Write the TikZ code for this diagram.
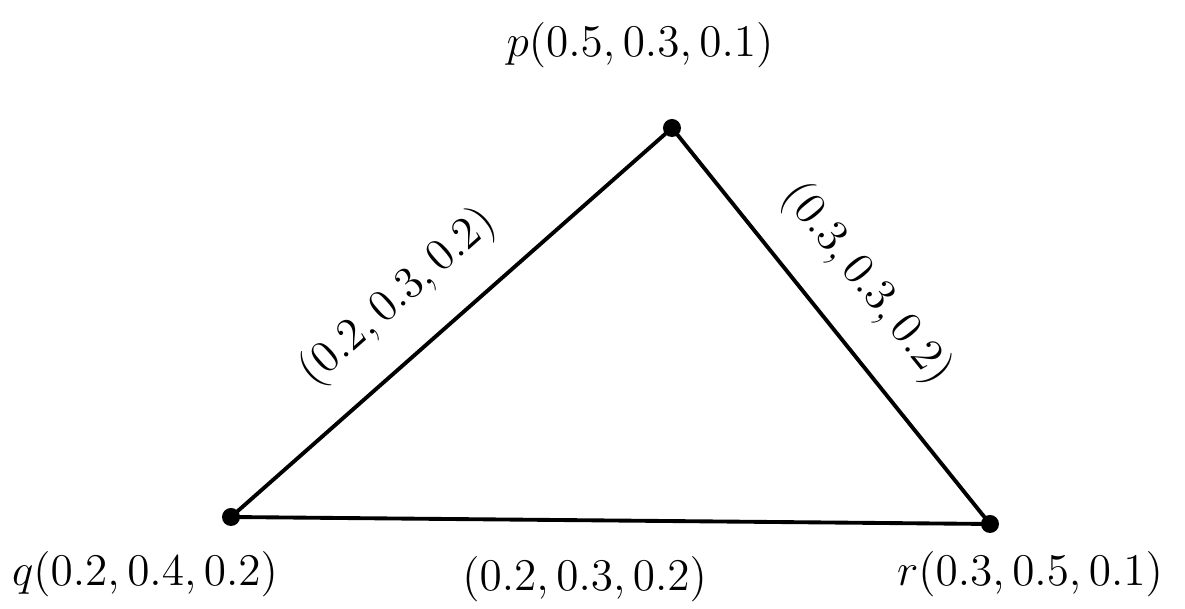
\documentclass[tikz,border=0pt]{standalone}
\usepackage{fix-cm}
\begin{document}
\begin{tikzpicture}[font=\fontsize{12.9}{15}\selectfont, line width=1.1pt]
    \useasboundingbox (0,0) rectangle (11.85,6.09);
    \coordinate (p) at (6.72,4.81);
    \coordinate (q) at (2.31,0.92);
    \coordinate (r) at (9.90,0.85);
    \draw (q) -- node [sloped, above=1.8mm, pos=0.46] (qp) {$(0.2, 0.3, 0.2)$} (p);
    \draw (p) -- node [sloped, above=1.8mm, pos=0.48] (pr) {$(0.3, 0.3, 0.2)$} (r);
    \draw (q) -- node [below=2.3mm, pos=0.466] (qr) {$(0.2, 0.3, 0.2)$} (r);
    \filldraw [black] (p) circle [radius=2pt];
    \filldraw [black] (q) circle [radius=2pt];
    \filldraw [black] (r) circle [radius=2pt];
    \node (plabel) at (6.40,5.64) {$p(0.5, 0.3, 0.1)$};
    \node (qlabel) at (1.45,0.35) {$q(0.2, 0.4, 0.2)$};
    \node (rlabel) at (10.30,0.35) {$r(0.3, 0.5, 0.1)$};
  \end{tikzpicture}
\end{document}
